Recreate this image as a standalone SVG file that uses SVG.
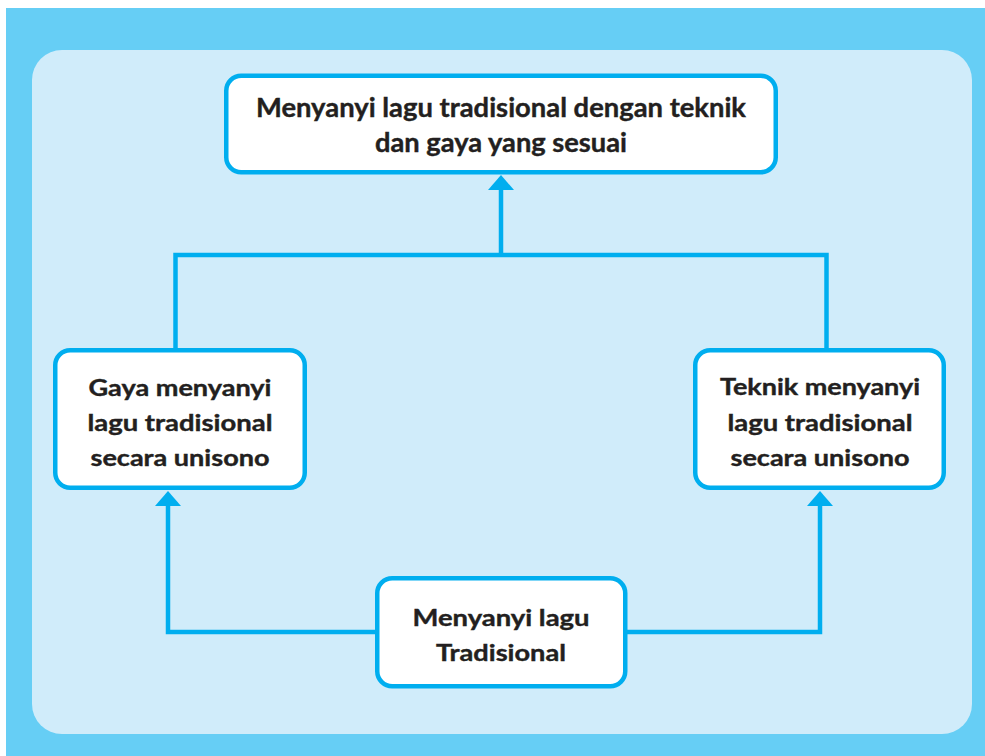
<svg xmlns="http://www.w3.org/2000/svg" width="985" height="756" viewBox="0 0 985 756">
  <defs>
    <style>
      .box { fill: #FFFFFF; stroke: #00AEEF; stroke-width: 4.5; }
      .conn { fill: none; stroke: #00AEEF; stroke-width: 4.5; stroke-linejoin: miter; stroke-linecap: butt; }
      .head { fill: #00AEEF; stroke: none; }
      .lbl { font-family: Lato, "Open Sans", "Liberation Sans", sans-serif; font-weight: bold; fill: #231F20; stroke: #231F20; stroke-width: 0.4; text-anchor: middle; }
      .big { font-size: 26px; }
      .small { font-size: 22.5px; }
    </style>
  </defs>
  <rect x="0" y="0" width="985" height="756" fill="#FFFFFF"/>
  <rect x="6" y="8" width="979" height="748" fill="#66CEF5"/>
  <rect x="32" y="50" width="940" height="684" rx="30" ry="30" fill="#D0ECFA"/>

  <g id="connectors">
    <polyline class="conn" points="501,255 501,188"/>
    <polygon class="head" points="488,190 514,190 501,175"/>
    <polyline class="conn" points="175.5,350 175.5,255 826.5,255 826.5,350"/>
    <polyline class="conn" points="377,632 168,632 168,504"/>
    <polygon class="head" points="155,506 181,506 168,491"/>
    <polyline class="conn" points="625,632 820,632 820,504"/>
    <polygon class="head" points="807,506 833,506 820,491"/>
  </g>

  <g id="node-goal">
    <rect class="box" x="226.25" y="75.75" width="549.5" height="96.5" rx="15" ry="15"/>
    <text class="lbl big" x="501" y="117" textLength="490" lengthAdjust="spacingAndGlyphs">Menyanyi lagu tradisional dengan teknik</text>
    <text class="lbl big" x="501" y="152" textLength="252" lengthAdjust="spacingAndGlyphs">dan gaya yang sesuai</text>
  </g>

  <g id="node-gaya">
    <rect class="box" x="55.25" y="350.25" width="249.5" height="137.5" rx="15" ry="15"/>
    <text class="lbl small" x="180" y="396" textLength="183" lengthAdjust="spacingAndGlyphs">Gaya menyanyi</text>
    <text class="lbl small" x="180" y="431" textLength="185" lengthAdjust="spacingAndGlyphs">lagu tradisional</text>
    <text class="lbl small" x="180" y="466" textLength="179" lengthAdjust="spacingAndGlyphs">secara unisono</text>
  </g>

  <g id="node-teknik">
    <rect class="box" x="695.25" y="350.25" width="248.5" height="137.5" rx="15" ry="15"/>
    <text class="lbl small" x="820" y="395" textLength="200" lengthAdjust="spacingAndGlyphs">Teknik menyanyi</text>
    <text class="lbl small" x="820" y="431" textLength="185" lengthAdjust="spacingAndGlyphs">lagu tradisional</text>
    <text class="lbl small" x="820" y="466" textLength="179" lengthAdjust="spacingAndGlyphs">secara unisono</text>
  </g>

  <g id="node-source">
    <rect class="box" x="377.25" y="578.25" width="248" height="108" rx="15" ry="15"/>
    <text class="lbl small" x="501" y="626" textLength="177" lengthAdjust="spacingAndGlyphs">Menyanyi lagu</text>
    <text class="lbl small" x="501" y="661" textLength="130" lengthAdjust="spacingAndGlyphs">Tradisional</text>
  </g>
</svg>
